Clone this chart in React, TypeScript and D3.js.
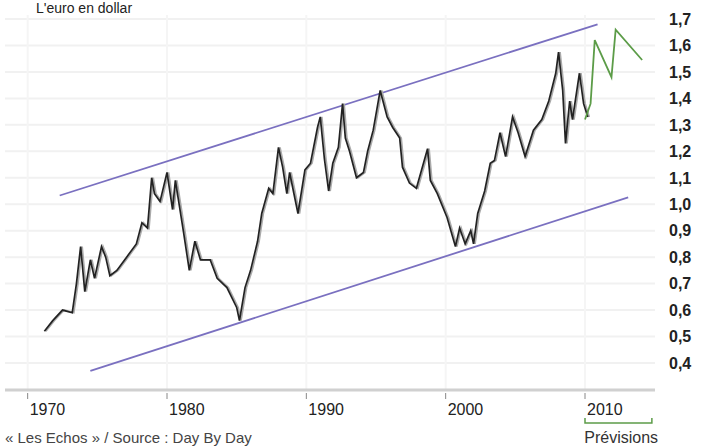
import React from "react";
import * as d3 from "d3";

// EUR/USD history (decimal year, value)
const priceYears = [
  1971.2, 1971.8, 1972.5, 1973.2, 1973.5, 1973.8, 1974.1, 1974.5, 1974.8, 1975.3,
  1975.6, 1975.9, 1976.4, 1977.1, 1977.8, 1978.2, 1978.6, 1978.9, 1979.1, 1979.5,
  1980.0, 1980.4, 1980.6, 1981.2, 1981.6, 1982.0, 1982.4, 1983.1, 1983.6, 1984.3,
  1985.0, 1985.2, 1985.6, 1986.0, 1986.5, 1986.8, 1987.3, 1987.6, 1988.0, 1988.3,
  1988.6, 1988.8, 1989.4, 1989.9, 1990.3, 1990.8, 1991.0, 1991.3, 1991.6, 1991.9,
  1992.3, 1992.6, 1992.8, 1993.1, 1993.6, 1994.1, 1994.4, 1994.8, 1995.3, 1995.8,
  1996.2, 1996.7, 1996.9, 1997.4, 1997.9, 1998.7, 1998.9, 1999.4, 2000.1, 2000.7,
  2001.0, 2001.4, 2001.8, 2002.0, 2002.3, 2002.8, 2003.2, 2003.5, 2003.9, 2004.3,
  2004.8, 2005.2, 2005.7, 2006.3, 2006.9, 2007.4, 2007.9, 2008.1, 2008.4, 2008.6,
  2008.9, 2009.1, 2009.6, 2009.9, 2010.2,
];
const priceValues = [
  0.52, 0.56, 0.6, 0.59, 0.7, 0.84, 0.67, 0.79, 0.72, 0.84,
  0.8, 0.73, 0.75, 0.8, 0.85, 0.93, 0.91, 1.1, 1.04, 1.01,
  1.12, 0.98, 1.09, 0.89, 0.75, 0.86, 0.79, 0.79, 0.72, 0.685,
  0.61, 0.56, 0.685, 0.75, 0.86, 0.965, 1.06, 1.04, 1.215, 1.14,
  1.04, 1.12, 0.965, 1.13, 1.155, 1.29, 1.33, 1.17, 1.05, 1.155,
  1.215, 1.38, 1.25, 1.2, 1.1, 1.12, 1.2, 1.28, 1.43, 1.33,
  1.29, 1.25, 1.14, 1.08, 1.06, 1.21, 1.09, 1.04, 0.95, 0.84,
  0.91, 0.85, 0.9, 0.85, 0.965, 1.05, 1.155, 1.165, 1.27, 1.18,
  1.33, 1.27, 1.18, 1.28, 1.32, 1.39, 1.495, 1.575, 1.43, 1.23,
  1.39, 1.32, 1.495, 1.38, 1.33,
];

// Forecast ("Prévisions")
const forecastYears = [2010.0, 2010.4, 2010.7, 2011.9, 2012.2, 2014.1];
const forecastValues = [1.32, 1.38, 1.62, 1.48, 1.66, 1.545];

// Trend channel endpoints
const upperChannel: [number, number][] = [[1972.3, 1.033], [2010.9, 1.68]];
const lowerChannel: [number, number][] = [[1974.5, 0.37], [2013.1, 1.026]];

const yTicks = [1.7, 1.6, 1.5, 1.4, 1.3, 1.2, 1.1, 1.0, 0.9, 0.8, 0.7, 0.6, 0.5, 0.4];
const xTicks = [1970, 1980, 1990, 2000, 2010];

const title = "L'euro en dollar";
const source = "« Les Echos » / Source : Day By Day";
const forecastLabel = "Prévisions";

const W = 701;
const H = 448;

const App: React.FC = () => {
  const x = d3.scaleLinear().domain([1980, 2010]).range([167, 585]);
  const y = d3.scaleLinear().domain([0.4, 1.7]).range([363, 19]);

  const line = d3
    .line<[number, number]>()
    .x(d => x(d[0]))
    .y(d => y(d[1]));

  const price = priceYears.map((yr, i) => [yr, priceValues[i]] as [number, number]);
  const forecast = forecastYears.map((yr, i) => [yr, forecastValues[i]] as [number, number]);

  const gridLeft = 5;
  const gridRight = 655;
  const baseY = 390;

  return (
    <svg
      width={W}
      height={H}
      style={{ position: "absolute", left: 0, top: 0, background: "#fff" }}
      fontFamily="Liberation Sans, Arial, sans-serif"
    >
      {/* faint grid */}
      {yTicks.map(t => (
        <line key={`g${t}`} x1={gridLeft} x2={gridRight} y1={y(t)} y2={y(t)} stroke="#f1f1f1" strokeWidth={2} />
      ))}
      {xTicks.map(t => (
        <line key={`v${t}`} x1={x(t)} x2={x(t)} y1={15} y2={baseY} stroke="#f5f5f5" strokeWidth={2} />
      ))}

      <text x={36} y={13} fontSize={14} fill="#222">{title}</text>

      {/* channel */}
      <path d={line(upperChannel) || ""} fill="none" stroke="#7a70c0" strokeWidth={1.8} />
      <path d={line(lowerChannel) || ""} fill="none" stroke="#7a70c0" strokeWidth={1.8} />

      {/* price */}
      <g transform="translate(1.5,0)">
        <path d={line(price) || ""} fill="none" stroke="#aaa" strokeWidth={1.8} />
      </g>
      <path d={line(price) || ""} fill="none" stroke="#222" strokeWidth={1.7} />

      {/* forecast */}
      <path d={line(forecast) || ""} fill="none" stroke="#5c9c48" strokeWidth={1.8} />

      {/* x axis */}
      <line x1={gridLeft} x2={gridRight} y1={baseY} y2={baseY} stroke="#d0d0d0" strokeWidth={3} />
      {xTicks.map(t => (
        <g key={`x${t}`}>
          <line x1={x(t)} x2={x(t)} y1={baseY + 3} y2={baseY + 9} stroke="#888" strokeWidth={1} />
          <text x={x(t) + 2} y={baseY + 25} fontSize={16} fill="#222">{t}</text>
        </g>
      ))}

      {/* y labels */}
      {yTicks.map(t => (
        <text
          key={`y${t}`}
          x={669}
          y={y(t)}
          dy="0.36em"
          fontSize={16}
          fontWeight="bold"
          fontFamily="Liberation Sans Narrow, Arial Narrow, sans-serif"
          fill="#222"
        >
          {d3.format(".1f")(t).replace(".", ",")}
        </text>
      ))}

      {/* forecast bracket */}
      <path
        d={`M${x(2010)},${baseY + 28}V${baseY + 33}H${x(2014.8)}V${baseY + 28}`}
        fill="none"
        stroke="#5c9c48"
        strokeWidth={1.5}
      />
      <text x={x(2012.6)} y={443} fontSize={16} textAnchor="middle" fill="#333">{forecastLabel}</text>

      <text x={5} y={443} fontSize={15} fill="#444">{source}</text>
    </svg>
  );
};

export default App;
